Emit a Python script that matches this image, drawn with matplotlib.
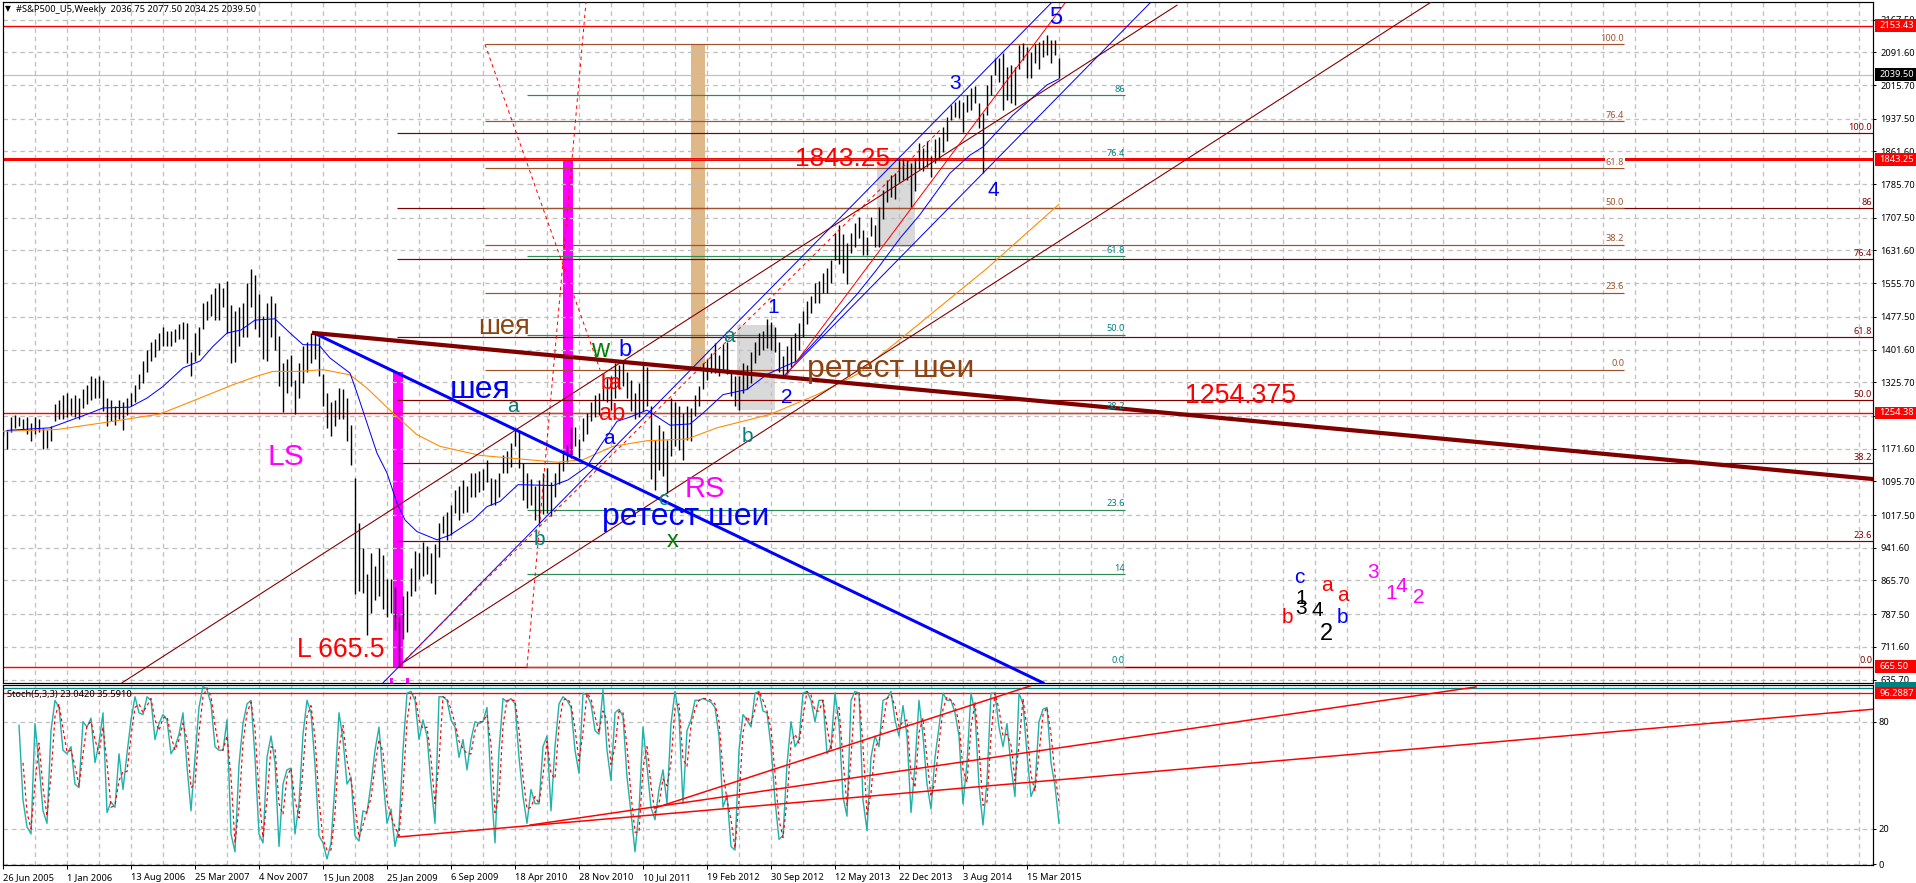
import matplotlib
matplotlib.use('Agg')
import matplotlib.pyplot as plt
import numpy as np
from matplotlib.patches import Rectangle

W, H = 1916, 883
PX = 0.72  # one pixel in points at dpi 100

# weekly S&P500 futures, one bar read every two weeks
bar_high = [1212,1215,1245,1250,1245,1240,1245,1230,1245,1240,
            1220,1215,1225,1275,1285,1295,1300,1290,1295,1290,
            1310,1320,1340,1335,1340,1332,1290,1285,1270,1285,
            1280,1290,1300,1320,1345,1375,1400,1420,1425,1440,
            1455,1444,1445,1450,1460,1465,1463,1395,1440,1455,
            1510,1515,1530,1545,1555,1545,1560,1505,1490,1500,
            1510,1555,1588,1575,1530,1480,1510,1525,1510,1432,
            1370,1380,1390,1330,1370,1410,1420,1440,1445,1430,
            1345,1300,1281,1285,1312,1310,1290,1227,1103,1000,
            940,880,930,900,940,925,870,870,850,780,
            830,840,895,935,930,955,945,930,950,1000,
            1015,1025,1040,1076,1084,1099,1085,1115,1115,1120,
            1125,1146,1103,1100,1115,1157,1165,1185,1220,1215,
            1138,1115,1100,1084,1099,1115,1127,1095,1115,1140,
            1165,1180,1223,1223,1195,1243,1255,1280,1295,1300,
            1347,1335,1340,1370,1365,1370,1350,1330,1300,1325,
            1365,1360,1270,1192,1227,1212,1192,1289,1281,1270,
            1254,1270,1265,1297,1316,1370,1380,1394,1417,1390,
            1415,1420,1355,1340,1340,1370,1365,1395,1420,1440,
            1445,1473,1465,1455,1420,1386,1410,1430,1440,1463,
            1490,1515,1525,1556,1560,1580,1591,1610,1673,1690,
            1670,1650,1673,1695,1710,1680,1663,1710,1690,1733,
            1772,1795,1807,1812,1843,1843,1841,1835,1845,1881,
            1870,1885,1850,1890,1895,1918,1941,1969,1977,1981,
            1977,1992,2008,2013,1973,1950,2016,2039,2078,2078,
            2089,2058,2062,2058,2109,2114,2105,2093,2112,2116,
            2120,2132,2120,2120,2078]
bar_low = [1200,1170,1210,1220,1225,1215,1205,1190,1205,1210,
           1170,1172,1190,1235,1240,1240,1245,1250,1245,1240,
           1265,1275,1285,1290,1290,1260,1225,1235,1227,1240,
           1215,1250,1270,1280,1310,1325,1350,1375,1385,1400,
           1410,1410,1410,1420,1425,1425,1370,1340,1375,1390,
           1450,1470,1480,1470,1470,1500,1440,1370,1372,1410,
           1430,1430,1500,1450,1430,1380,1375,1430,1400,1316,
           1256,1300,1316,1252,1290,1325,1350,1370,1380,1340,
           1270,1220,1200,1225,1240,1240,1190,1134,835,840,
           836,738,790,820,830,800,780,790,750,665,
           730,745,830,840,870,875,880,860,835,920,
           975,960,970,1022,1006,1022,1025,1060,1060,1070,
           1075,1095,1041,1040,1060,1115,1115,1130,1177,1127,
           1053,1033,1040,1006,998,1020,1022,1015,1060,1090,
           1120,1140,1150,1177,1150,1190,1205,1235,1245,1250,
           1285,1280,1262,1290,1310,1316,1290,1260,1240,1245,
           1260,1270,1100,1076,1122,1107,1068,1154,1177,1169,
           1146,1192,1190,1247,1270,1310,1330,1347,1347,1340,
           1355,1345,1293,1270,1262,1300,1310,1325,1370,1390,
           1400,1405,1400,1395,1350,1340,1345,1360,1375,1400,
           1430,1460,1487,1510,1510,1533,1533,1555,1610,1600,
           1580,1553,1626,1640,1660,1620,1620,1665,1640,1640,
           1705,1745,1755,1750,1790,1795,1795,1732,1770,1820,
           1815,1825,1802,1835,1845,1860,1885,1934,1942,1938,
           1907,1954,1958,1973,1915,1811,1946,1992,2039,2023,
           1958,1981,1973,1969,2054,2074,2031,2031,2066,2054,
           2081,2085,2066,2085,2031]

# moving averages (bar number, price)
ma_fast_x = [2,23.5,43.5,50,63.5,72,80,90,98.5,105,112,119,126,136,143.5,150,158,163.5,173.5,177,182,187,192,197,201,207,217,223.5,235,242,248.5,257.5,275,282.5,292,298.5,307,313.5,322,333.5,343.5,350,360,372,382,390,397,407,417,427,437,448.5,458.5,473.5,483.5,490,497,505,513.5,522,528]
ma_fast_y = [1214,1220,1254,1266,1268,1289,1316,1359,1375,1409,1440,1447,1470,1473,1440,1413,1412,1382,1347,1301,1231,1161,1115,1045,1006,979,960,971,1006,1037,1049,1088,1086,1099,1130,1177,1235,1245,1261,1226,1229,1254,1297,1309,1344,1361,1375,1425,1479,1530,1588,1660,1715,1811,1853,1872,1907,1946,1981,2016,2030]
ma_slow_x = [0,27,53.5,78.5,98.5,115,127,135,148.5,160,173.5,182,195,207,218.5,238.5,277,290,305,322,342,357,383.5,407,427,458.5,492.5,528]
ma_slow_y = [1212,1216,1234,1252,1289,1320,1340,1351,1351,1355,1343,1312,1254,1204,1177,1156,1140,1146,1177,1190,1194,1220,1251,1297,1344,1463,1592,1739]

# stochastic, starts at bar 8 (main) and bar 10 (signal)
stoch_main = [78,36,21,17,79,56,30,23,75,92,
              88,64,62,66,45,43,80,77,82,57,
              68,85,29,35,32,62,42,62,81,94,
              85,84,94,92,70,79,84,81,62,66,
              73,85,55,30,60,88,100,98,90,66,
              64,64,81,17,7,56,79,90,92,60,
              17,12,60,72,57,10,45,53,54,17,
              34,73,92,85,56,16,12,3,12,45,
              85,70,45,49,16,13,30,29,45,64,
              77,49,23,31,10,21,64,96,97,92,
              70,81,72,45,23,94,94,92,81,77,
              60,70,53,70,80,79,
              80,88,45,12,64,93,91,93,90,60,
              38,23,42,34,34,66,72,30,66,90,
              94,92,88,64,51,96,95,90,75,73,
              98,64,47,85,87,83,49,29,7,30,
              77,55,32,25,42,53,34,79,97,83,
              34,75,81,92,92,93,92,91,88,72,
              32,39,10,8,64,84,81,77,96,97,
              86,85,66,36,14,16,56,80,66,70,
              96,97,92,80,92,92,62,66,96,79,
              38,27,92,97,96,36,19,60,72,66,
              92,93,97,81,72,89,72,29,56,92,
              72,45,31,60,77,96,92,92,85,72,
              34,57,96,85,44,22,47,96,96,77,
              66,79,55,38,96,90,62,38,44,80,
              87,88,57,44,23]
stoch_signal = [57,29,20,45,68,43,27,50,83,
                90,76,63,64,55,44,62,78,80,70,
                62,77,57,32,33,47,52,52,72,88,
                90,85,89,93,81,75,82,83,72,64,
                70,79,70,43,45,74,94,99,94,78,
                65,64,72,49,12,32,68,85,91,76,
                39,15,36,66,65,34,28,49,54,36,
                26,54,83,89,71,36,14,8,8,29,
                65,78,58,47,33,15,22,30,37,55,
                70,63,36,27,21,16,43,80,96,95,
                81,76,77,59,34,58,94,93,87,79,
                69,65,62,62,75,80,
                80,84,67,29,38,78,92,92,92,75,
                49,31,32,38,34,50,69,51,48,78,
                92,93,90,76,58,74,96,93,83,74,
                86,81,56,66,86,85,66,39,18,18,
                54,66,44,29,34,48,44,57,88,90,
                59,55,78,87,92,93,93,92,90,80,
                52,36,25,9,36,74,83,79,87,97,
                92,86,76,51,25,15,36,68,73,68,
                83,97,95,86,86,92,77,64,81,88,
                59,33,60,95,97,66,28,40,66,69,
                79,93,95,89,77,80,81,50,43,74,
                82,59,38,46,68,87,94,92,89,79,
                53,46,77,91,65,33,35,72,96,87,
                72,73,67,47,67,93,76,50,41,62,
                84,88,73,50,35]

# fibonacci sets: levels, prices
fib_a_names = ['100.0','86','76.4','61.8','50.0','38.2','23.6','0.0']
fib_a_price = [1904,1729.6,1611,1430,1284.6,1137.6,957,665.5]
fib_b_names = ['100.0','76.4','61.8','50.0','38.2','23.6','0.0']
fib_b_price = [2110,1932,1822,1730,1645,1534,1355]
fib_c_names = ['86','76.4','61.8','50.0','38.2','23.6','14','0.0']
fib_c_price = [1992,1843.5,1618.6,1436,1255,1030,881,665.5]

# hand drawn lines: (bar0, price0, bar1, price1)
neck_brown = (155.5,1440,935,1101)
neck_blue = (155.5,1440,520,628)
channels_maroon = [(59.5,628,587,2201),(198.5,670,714,2208)]
channels_blue = [(190,628,524.5,2208),(391,1343,573.5,2206)]
trend_red = (391,1338,531,2206)
trend_red_dash = [(198.5,670,468.5,1911),(241,2110,298.5,1355),(262,665.5,291.5,2208)]
stoch_trends = [(197.5,15.3,935,87),(263.5,22,736.5,99.5),(326,31.6,513.5,100)]

price_ticks = [2167.5,2091.6,2015.7,1937.5,1861.6,1785.7,1707.5,1631.6,1555.7,1477.5,1401.6,
               1325.7,1247.5,1171.6,1095.7,1017.5,941.6,865.7,787.5,711.6,635.7]
date_labels = ['26 Jun 2005','1 Jan 2006','13 Aug 2006','25 Mar 2007','4 Nov 2007','15 Jun 2008',
               '25 Jan 2009','6 Sep 2009','18 Apr 2010','28 Nov 2010','10 Jul 2011','19 Feb 2012',
               '30 Sep 2012','12 May 2013','22 Dec 2013','3 Aug 2014','15 Mar 2015']

SMALL = ['Noto Sans', 'DejaVu Sans']
BIG = 'Liberation Sans'
MAROON = '#800000'
BROWN = '#A0522D'
GREEN = '#2E8B57'
MAGENTA = '#FF00FF'
TEAL = '#008080'
GRID = '#C0C0C0'

fig = plt.figure(figsize=(W / 100, H / 100), dpi=100, facecolor='white')

def axes_px(left, top, right, bottom):
    return fig.add_axes([left / W, 1 - bottom / H, (right - left) / W, (bottom - top) / H])

def label(px, py, s, color, size, family=BIG, ha='left'):
    # py is the text baseline in picture pixels
    fig.text(px / W, 1 - py / H, s, color=color, fontsize=size, family=family,
             ha=ha, va='baseline', zorder=20)

ax = axes_px(3, 2, 1873, 683)
sub = axes_px(3, 685, 1873, 865)

ax.set_xlim(0, 935)
ax.set_ylim(627.6, 2208.4)
sub.set_xlim(0, 935)
sub.set_ylim(-0.4, 100.6)

grid_x = np.arange(16, 935, 16)
for a in (ax, sub):
    for s in a.spines.values():
        s.set_linewidth(1.2 * PX)
    a.vlines(grid_x, *a.get_ylim(), color=GRID, lw=1.3 * PX, linestyles=(0, (3.5, 3)), zorder=1.2)

# price panel
ax.hlines(price_ticks, 0, 935, color=GRID, lw=1.3 * PX, linestyles=(0, (3.5, 3)), zorder=1.2)
ax.add_patch(Rectangle((367, 1261), 19, 197, fc='#D9D9D9', ec='none', zorder=1))
ax.add_patch(Rectangle((437, 1640), 19, 203, fc='#D9D9D9', ec='none', zorder=1))
ax.add_patch(Rectangle((195, 665.5), 5, 683.5, fc=MAGENTA, ec='none', zorder=1))
ax.add_patch(Rectangle((280, 1157), 5, 686, fc=MAGENTA, ec='none', zorder=1))
ax.add_patch(Rectangle((344, 1359), 7, 751, fc='#DEB887', ec='none', zorder=1))
ax.add_patch(Rectangle((193.5, 628), 1.5, 12, fc=MAGENTA, ec='none', zorder=1))
ax.add_patch(Rectangle((201.5, 628), 1.5, 12, fc=MAGENTA, ec='none', zorder=1))

ax.axhline(2039.5, color='#C0C0C0', lw=1.2 * PX, zorder=2)
for level, lw in ((2153.43, 1.4), (1843.25, 3.0), (1254.38, 1.4), (665.5, 1.4)):
    ax.axhline(level, color='red', lw=lw * PX, zorder=2.2)

ax.hlines(fib_a_price, 197, 935, color=MAROON, lw=1.2 * PX, zorder=2.3)
ax.hlines(fib_b_price, 241, 810.5, color=BROWN, lw=1.2 * PX, zorder=2.3)
ax.hlines(fib_c_price, 262, 561, color=GREEN, lw=1.2 * PX, zorder=2.4)

for nm, p in zip(fib_a_names, fib_a_price):
    ax.text(934.5, p + 3, nm, color=MAROON, fontsize=6.6, family=SMALL, ha='right', va='bottom', zorder=6)
for nm, p in zip(fib_b_names, fib_b_price):
    bg = dict(fc='white', ec='none', pad=0.4) if nm == '61.8' else None
    ax.text(810.5, p + 3, nm, color=BROWN, fontsize=6.6, family=SMALL, ha='right', va='bottom', zorder=6, bbox=bg)
for nm, p in zip(fib_c_names, fib_c_price):
    ax.text(561, p + 3, nm, color=TEAL, fontsize=6.6, family=SMALL, ha='right', va='bottom', zorder=6)

# bars
bar_x = np.arange(len(bar_high)) * 2
ax.vlines(bar_x, bar_low, bar_high, color='black', lw=1.4 * PX, zorder=3)

ax.plot(ma_fast_x, ma_fast_y, color='blue', lw=1.0 * PX, zorder=3.5)
ax.plot(ma_slow_x, ma_slow_y, color='#FF8C00', lw=1.1 * PX, zorder=3.4)

for x0, y0, x1, y1 in channels_maroon:
    ax.plot([x0, x1], [y0, y1], color=MAROON, lw=1.1 * PX, zorder=4)
for x0, y0, x1, y1 in channels_blue:
    ax.plot([x0, x1], [y0, y1], color='blue', lw=1.0 * PX, zorder=4)
ax.plot(trend_red[::2], trend_red[1::2], color='red', lw=1.0 * PX, zorder=4)
for t in trend_red_dash:
    ax.plot(t[::2], t[1::2], color='red', lw=1.0 * PX, linestyle=(0, (3.5, 3.5)), zorder=4)
ax.plot(neck_blue[::2], neck_blue[1::2], color='blue', lw=3.0 * PX, zorder=4.5)
ax.plot(neck_brown[::2], neck_brown[1::2], color=MAROON, lw=4.2 * PX, zorder=4.6)

ax.set_xticks([])
ax.yaxis.tick_right()
ax.set_yticks(price_ticks)
ax.set_yticklabels(['%.2f' % p for p in price_ticks], family=SMALL, fontsize=6.7)
ax.tick_params(axis='y', length=3 * PX, width=1 * PX, pad=3)

# value boxes on the price scale
boxes = [(2153.43, 'red'), (2039.5, 'black'), (1843.25, 'red'), (1254.38, 'red'), (665.5, 'red')]
box_tr = ax.get_yaxis_transform()
for val, col in boxes:
    ax.add_patch(Rectangle((1 + 2 / 1870, val - 15), 41 / 1870, 30, fc=col, ec='none',
                           transform=box_tr, clip_on=False, zorder=8))
    ax.text(1 + 6 / 1870, val, '%.2f' % val, color='white', fontsize=6.7, family=SMALL,
            transform=box_tr, va='center', ha='left', clip_on=False, zorder=9)

# stochastic panel
sub.hlines([80, 20, 0], 0, 935, color=GRID, lw=1.3 * PX, linestyles=(0, (3.5, 3)), zorder=1.2)
sub.axhline(98.8, color=TEAL, lw=1.3 * PX, zorder=2)
sub.axhline(96.2887, color='red', lw=1.3 * PX, zorder=2)
main_x = 8 + np.arange(len(stoch_main)) * 2
signal_x = 10 + np.arange(len(stoch_signal)) * 2
sub.plot(main_x, stoch_main, color='#20B2AA', lw=1.4 * PX, zorder=3)
sub.plot(signal_x, stoch_signal, color='red', lw=1.2 * PX, linestyle=(0, (2.5, 2.5)), zorder=3.2)
for t in stoch_trends:
    sub.plot(t[::2], t[1::2], color='red', lw=1.5 * PX, zorder=4)

sub.yaxis.tick_right()
sub.set_yticks([80, 20, 0])
sub.set_yticklabels(['80', '20', '0'], family=SMALL, fontsize=6.7)
sub.tick_params(axis='y', length=3 * PX, width=1 * PX, pad=2)
sub.set_xticks(np.arange(len(date_labels)) * 32)
sub.set_xticklabels(date_labels, family=SMALL, fontsize=6.7, ha='left')
sub.tick_params(axis='x', length=4 * PX, width=1 * PX, pad=3)

box_sub = sub.get_yaxis_transform()
sub.add_patch(Rectangle((1 + 2 / 1870, 95.7), 41 / 1870, 6.6, fc=TEAL, ec='none',
                        transform=box_sub, clip_on=False, zorder=8))
sub.add_patch(Rectangle((1 + 2 / 1870, 92.9), 41 / 1870, 6.4, fc='red', ec='none',
                        transform=box_sub, clip_on=False, zorder=8.5))
sub.text(1 + 6 / 1870, 96.1, '96.2887', color='white', fontsize=6.7, family=SMALL,
         transform=box_sub, va='center', ha='left', clip_on=False, zorder=9)

# header texts
label(5, 11, '\u25bc', 'black', 5.5, SMALL)
label(16, 12, '#S&P500_U5,Weekly  2036.75 2077.50 2034.25 2039.50', 'black', 6.7, SMALL)
label(7, 697, 'Stoch(5,3,3) 23.0420 35.5910', 'black', 6.7, SMALL)

# large chart notes
label(795, 166, '1843.25', 'red', 19)
label(1185, 403, '1254.375', 'red', 19.2)
label(297, 657, 'L 665.5', 'red', 19.2)
label(268, 465, 'LS', MAGENTA, 21.6)
label(685, 497, 'RS', MAGENTA, 21)
label(478, 334, 'шея', '#8B4513', 19.5)
label(450, 398, 'шея', 'blue', 23)
label(602, 525, 'ретест шеи', 'blue', 23)
label(807, 377, 'ретест шеи', '#8B4513', 23)

# wave counts
waves = [('1', 773, 313, 'blue', 15), ('2', 787, 403, 'blue', 15), ('3', 955, 89, 'blue', 15),
         ('4', 993, 196, 'blue', 15), ('5', 1056, 24, 'blue', 17), ('a', 729, 342, TEAL, 15),
         ('b', 747, 442, TEAL, 15), ('a', 513, 412, TEAL, 15), ('b', 539, 545, TEAL, 15),
         ('w', 600, 357, 'green', 18), ('b', 625, 356, 'blue', 17), ('b', 607, 389, 'red', 16),
         ('a', 615, 389, 'red', 16), ('a', 609, 444, 'blue', 15), ('c', 663, 505, TEAL, 15),
         ('x', 673, 547, 'green', 17), ('c', 1299, 583, 'blue', 15), ('1', 1301, 604, 'black', 15),
         ('3', 1301, 614, 'black', 15), ('4', 1317, 616, 'black', 15), ('b', 1287, 623, 'red', 15),
         ('a', 1327, 591, 'red', 15), ('a', 1343, 601, 'red', 15), ('b', 1342, 623, 'blue', 15),
         ('3', 1373, 578, MAGENTA, 15), ('1', 1391, 599, MAGENTA, 15), ('4', 1401, 592, MAGENTA, 15),
         ('2', 1419, 603, MAGENTA, 15), ('ab', 612, 420, 'red', 17), ('2', 1326, 640, 'black', 17)]
for s, px, py, col, size in waves:
    label(px, py, s, col, size, ha='center')

fig.savefig('out.png', dpi=100)
